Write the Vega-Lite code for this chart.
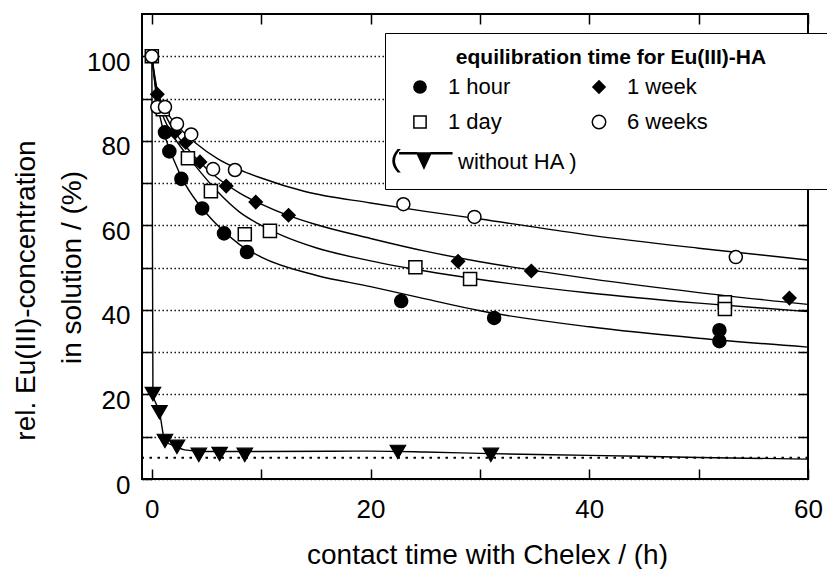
{
  "$schema": "https://vega.github.io/schema/vega-lite/v6.json",
  "width": 666,
  "height": 465,
  "autosize": {"type": "none"},
  "padding": {"left": 142, "top": 14, "right": 19, "bottom": 90},
  "background": "white",
  "config": {
    "font": "Liberation Sans",
    "view": {"stroke": "black", "strokeWidth": 2},
    "axis": {"labelColor": "black", "titleColor": "black", "tickColor": "black", "labelFont": "Liberation Sans", "titleFont": "Liberation Sans"}
  },
  "datasets": {
    "ref": [{"v": 5}],
    "curves": [
      {"series": "1 hour", "t": 0, "v": 100}, {"series": "1 hour", "t": 0.5, "v": 89}, {"series": "1 hour", "t": 1, "v": 83}, {"series": "1 hour", "t": 2, "v": 75.5}, {"series": "1 hour", "t": 3, "v": 70}, {"series": "1 hour", "t": 4, "v": 66}, {"series": "1 hour", "t": 5, "v": 62.8}, {"series": "1 hour", "t": 6, "v": 60}, {"series": "1 hour", "t": 8, "v": 55.5}, {"series": "1 hour", "t": 10, "v": 52.5}, {"series": "1 hour", "t": 15, "v": 48.2}, {"series": "1 hour", "t": 20, "v": 45.5}, {"series": "1 hour", "t": 25, "v": 42.6}, {"series": "1 hour", "t": 30, "v": 39.8}, {"series": "1 hour", "t": 40, "v": 36}, {"series": "1 hour", "t": 50, "v": 33.3}, {"series": "1 hour", "t": 60, "v": 31.2},
      {"series": "1 day", "t": 0, "v": 100}, {"series": "1 day", "t": 0.5, "v": 90}, {"series": "1 day", "t": 1, "v": 86}, {"series": "1 day", "t": 2, "v": 81}, {"series": "1 day", "t": 3, "v": 77.3}, {"series": "1 day", "t": 4, "v": 74}, {"series": "1 day", "t": 6, "v": 68}, {"series": "1 day", "t": 8, "v": 63.2}, {"series": "1 day", "t": 10, "v": 60}, {"series": "1 day", "t": 12, "v": 57.5}, {"series": "1 day", "t": 15, "v": 54.7}, {"series": "1 day", "t": 20, "v": 51.6}, {"series": "1 day", "t": 25, "v": 49.2}, {"series": "1 day", "t": 30, "v": 47.2}, {"series": "1 day", "t": 40, "v": 44}, {"series": "1 day", "t": 50, "v": 41.6}, {"series": "1 day", "t": 60, "v": 39.6},
      {"series": "1 week", "t": 0, "v": 100}, {"series": "1 week", "t": 0.5, "v": 91}, {"series": "1 week", "t": 1, "v": 87.5}, {"series": "1 week", "t": 2, "v": 82.5}, {"series": "1 week", "t": 3, "v": 79}, {"series": "1 week", "t": 4, "v": 76}, {"series": "1 week", "t": 6, "v": 71.2}, {"series": "1 week", "t": 8, "v": 67.7}, {"series": "1 week", "t": 10, "v": 65}, {"series": "1 week", "t": 12.5, "v": 62.3}, {"series": "1 week", "t": 15, "v": 60.2}, {"series": "1 week", "t": 20, "v": 56.9}, {"series": "1 week", "t": 25, "v": 53.9}, {"series": "1 week", "t": 30, "v": 51.4}, {"series": "1 week", "t": 35, "v": 49.3}, {"series": "1 week", "t": 40, "v": 47.4}, {"series": "1 week", "t": 50, "v": 44.1}, {"series": "1 week", "t": 60, "v": 41.3},
      {"series": "6 weeks", "t": 0, "v": 100}, {"series": "6 weeks", "t": 0.5, "v": 92}, {"series": "6 weeks", "t": 1, "v": 88.5}, {"series": "6 weeks", "t": 2, "v": 84.5}, {"series": "6 weeks", "t": 3, "v": 81.8}, {"series": "6 weeks", "t": 4, "v": 79.5}, {"series": "6 weeks", "t": 6, "v": 75.8}, {"series": "6 weeks", "t": 8, "v": 73.2}, {"series": "6 weeks", "t": 10, "v": 71.2}, {"series": "6 weeks", "t": 14, "v": 68}, {"series": "6 weeks", "t": 20, "v": 65.3}, {"series": "6 weeks", "t": 25, "v": 63.3}, {"series": "6 weeks", "t": 30, "v": 61.5}, {"series": "6 weeks", "t": 40, "v": 57.7}, {"series": "6 weeks", "t": 50, "v": 54.6}, {"series": "6 weeks", "t": 60, "v": 51.8},
      {"series": "without HA", "t": 0, "v": 100}, {"series": "without HA", "t": 0.1, "v": 20.1}, {"series": "without HA", "t": 0.7, "v": 15.8}, {"series": "without HA", "t": 1.2, "v": 9}, {"series": "without HA", "t": 2.3, "v": 7.6}, {"series": "without HA", "t": 3, "v": 6.9}, {"series": "without HA", "t": 5, "v": 6.5}, {"series": "without HA", "t": 10, "v": 6.5}, {"series": "without HA", "t": 20, "v": 6.6}, {"series": "without HA", "t": 25, "v": 6.4}, {"series": "without HA", "t": 31, "v": 6}, {"series": "without HA", "t": 40, "v": 5.6}, {"series": "without HA", "t": 50, "v": 5.1}, {"series": "without HA", "t": 60, "v": 4.7}
    ],
    "pts": [
      {"series": "1 hour", "t": 1.2, "v": 82}, {"series": "1 hour", "t": 1.6, "v": 77.5}, {"series": "1 hour", "t": 2.7, "v": 71}, {"series": "1 hour", "t": 4.6, "v": 64}, {"series": "1 hour", "t": 6.6, "v": 58.1}, {"series": "1 hour", "t": 8.7, "v": 53.7}, {"series": "1 hour", "t": 22.8, "v": 42.1}, {"series": "1 hour", "t": 31.3, "v": 38.1}, {"series": "1 hour", "t": 51.9, "v": 35.2}, {"series": "1 hour", "t": 51.9, "v": 32.6},
      {"series": "1 week", "t": 0.5, "v": 91}, {"series": "1 week", "t": 2.1, "v": 82}, {"series": "1 week", "t": 3.1, "v": 79.6}, {"series": "1 week", "t": 4.4, "v": 75}, {"series": "1 week", "t": 6.8, "v": 69.3}, {"series": "1 week", "t": 9.5, "v": 65.5}, {"series": "1 week", "t": 12.5, "v": 62.4}, {"series": "1 week", "t": 28, "v": 51.5}, {"series": "1 week", "t": 34.7, "v": 49.2}, {"series": "1 week", "t": 58.3, "v": 42.8},
      {"series": "1 day", "t": 0, "v": 100}, {"series": "1 day", "t": 1.0, "v": 87.5}, {"series": "1 day", "t": 3.3, "v": 75.9}, {"series": "1 day", "t": 5.4, "v": 68.1}, {"series": "1 day", "t": 8.5, "v": 57.9}, {"series": "1 day", "t": 10.8, "v": 58.7}, {"series": "1 day", "t": 24.1, "v": 50.1}, {"series": "1 day", "t": 29.1, "v": 47.3}, {"series": "1 day", "t": 52.4, "v": 41.8}, {"series": "1 day", "t": 52.4, "v": 40.2},
      {"series": "6 weeks", "t": 0, "v": 100}, {"series": "6 weeks", "t": 0.5, "v": 88}, {"series": "6 weeks", "t": 1.2, "v": 88}, {"series": "6 weeks", "t": 2.3, "v": 84}, {"series": "6 weeks", "t": 3.6, "v": 81.5}, {"series": "6 weeks", "t": 5.6, "v": 73.3}, {"series": "6 weeks", "t": 7.6, "v": 73.1}, {"series": "6 weeks", "t": 23, "v": 65}, {"series": "6 weeks", "t": 29.5, "v": 62}, {"series": "6 weeks", "t": 53.4, "v": 52.5}
    ],
    "tri": [
      {"series": "without HA", "t": 0.1, "v": 20.1}, {"series": "without HA", "t": 0.7, "v": 15.8}, {"series": "without HA", "t": 1.2, "v": 9}, {"series": "without HA", "t": 2.3, "v": 7.6}, {"series": "without HA", "t": 4.3, "v": 5.7}, {"series": "without HA", "t": 6.2, "v": 5.9}, {"series": "without HA", "t": 8.5, "v": 5.7}, {"series": "without HA", "t": 22.5, "v": 6.4}, {"series": "without HA", "t": 31, "v": 5.7}
    ]
  },
  "resolve": {"axis": {"x": "independent", "y": "independent"}},
  "layer": [
    {
      "data": {"name": "ref"},
      "mark": {"type": "rule", "color": "black", "strokeWidth": 2, "strokeDash": [2.5, 5.5]},
      "encoding": {
        "y": {"field": "v", "type": "quantitative", "scale": {"domain": [0, 110], "nice": false, "zero": false}, "axis": null}
      }
    },
    {
      "data": {"name": "curves"},
      "mark": {"type": "line", "color": "black", "strokeWidth": 1.4, "interpolate": "monotone"},
      "encoding": {
        "x": {"field": "t", "type": "quantitative", "scale": {"domain": [-0.9, 60], "nice": false, "zero": false},
          "axis": {"orient": "bottom", "values": [0, 10, 20, 30, 40, 50, 60], "labelExpr": "datum.value % 20 === 0 ? datum.label : ''", "labelFontSize": 26, "labelPadding": 48, "labelBaseline": "alphabetic", "tickSize": -10, "tickWidth": 1.5, "domain": false, "grid": false, "labelFlush": false, "labelOverlap": false,
            "title": "contact time  with Chelex / (h)", "titleFontSize": 28, "titleFontWeight": "normal", "titleX": 345, "titleY": 84, "titleAlign": "center", "titleBaseline": "alphabetic"}},
        "y": {"field": "v", "type": "quantitative", "scale": {"domain": [0, 110], "nice": false, "zero": false},
          "axis": {"orient": "left", "values": [0, 10, 20, 30, 40, 50, 60, 70, 80, 90, 100], "labelExpr": "datum.value % 20 === 0 ? datum.label : ''", "labelFontSize": 26, "labelPadding": 22, "labelOffset": 6, "tickSize": -10, "tickWidth": 1.5, "domain": false, "labelOverlap": false,
            "grid": true, "gridColor": "black", "gridDash": [1.4, 2.6], "gridWidth": 1.3, "gridOpacity": 1,
            "title": "rel. Eu(III)-concentration", "titleFontSize": 28, "titleFontWeight": "normal", "titleAngle": 270, "titleX": -108, "titleY": 276, "titleAlign": "center", "titleBaseline": "alphabetic"}},
        "detail": {"field": "series", "type": "nominal"},
        "order": {"field": "t", "type": "quantitative"}
      }
    },
    {
      "data": {"name": "tri"},
      "mark": {"type": "point", "filled": true, "shape": "triangle-down", "fill": "black", "stroke": "black", "strokeWidth": 1.2, "size": 240, "opacity": 1},
      "encoding": {
        "x": {"field": "t", "type": "quantitative", "scale": {"domain": [-0.9, 60], "nice": false, "zero": false}, "axis": null},
        "y": {"field": "v", "type": "quantitative", "scale": {"domain": [0, 110], "nice": false, "zero": false}, "axis": null}
      }
    },
    {
      "data": {"name": "pts"},
      "mark": {"type": "point", "filled": true, "stroke": "black", "strokeWidth": 1.5, "size": 170, "opacity": 1},
      "encoding": {
        "x": {"field": "t", "type": "quantitative", "scale": {"domain": [-0.9, 60], "nice": false, "zero": false},
          "axis": {"orient": "top", "values": [0, 10, 20, 30, 40, 50, 60], "labels": false, "tickSize": -10, "tickWidth": 1.5, "domain": false, "grid": false,
            "title": "in solution / (%)", "titleFontSize": 28, "titleFontWeight": "normal", "titleAngle": 270, "titleX": -62, "titleY": 253, "titleAlign": "center", "titleBaseline": "alphabetic"}},
        "y": {"field": "v", "type": "quantitative", "scale": {"domain": [0, 110], "nice": false, "zero": false},
          "axis": {"orient": "right", "values": [10, 20, 30, 40, 50, 60, 70, 80, 90, 100], "labels": false, "tickSize": -10, "tickWidth": 1.5, "domain": false, "grid": false, "title": null}},
        "shape": {"field": "series", "type": "nominal",
          "scale": {"domain": ["1 day", "1 hour", "1 week", "6 weeks", "without HA"], "range": ["square", "circle", "diamond", "circle", "triangle-down"]},
          "legend": null},
        "fill": {"field": "series", "type": "nominal", "title": "equilibration time for Eu(III)-HA",
          "scale": {"domain": ["1 hour", "1 week", "1 day", "6 weeks", "without HA"], "range": ["black", "black", "white", "white", "black"]},
          "legend": {"orient": "none", "legendX": 243, "legendY": 19, "columns": 2, "direction": "horizontal", "padding": 14,
            "strokeColor": "black", "fillColor": "white",
            "titleFontSize": 21, "titleFontWeight": "bold", "titleColor": "black", "titleAnchor": "middle", "titlePadding": 8, "titleLimit": 600,
            "labelFontSize": 22, "labelColor": "black", "labelLimit": 600, "rowPadding": 13, "columnPadding": 0, "symbolOffset": 10, "labelOffset": 17, "symbolSize": 150,
            "labelExpr": "datum.label === 'without HA' ? 'without HA )' : datum.label",
            "encoding": {
              "symbols": {"shape": {"value": {"expr": "datum.value === 'without HA' ? 'M-0.5,-1.45L1.8,-1.45L0.65,1.0Z M-3.3,-1.5L-0.5,-1.5L-0.5,-1.35L-3.3,-1.35Z M1.8,-1.5L5.2,-1.5L5.2,-1.35L1.8,-1.35Z M-3.6,-2.0Q-5.2,-0.2 -3.6,1.6L-3.4,1.6Q-5.0,-0.2 -3.4,-2.0Z' : datum.value === '1 week' ? 'M-1,0L0,-1L1,0L0,1Z M36,0' : datum.value === '6 weeks' ? 'M1.1,0A1.1,1.1 0 1,1 -1.1,0A1.1,1.1 0 1,1 1.1,0Z M36,0' : datum.value === '1 day' ? 'square' : 'circle'"}}},
              "labels": {"dx": {"value": {"expr": "datum.value === 'without HA' ? 10 : 0"}}}
            }}}
      }
    }
  ]
}
